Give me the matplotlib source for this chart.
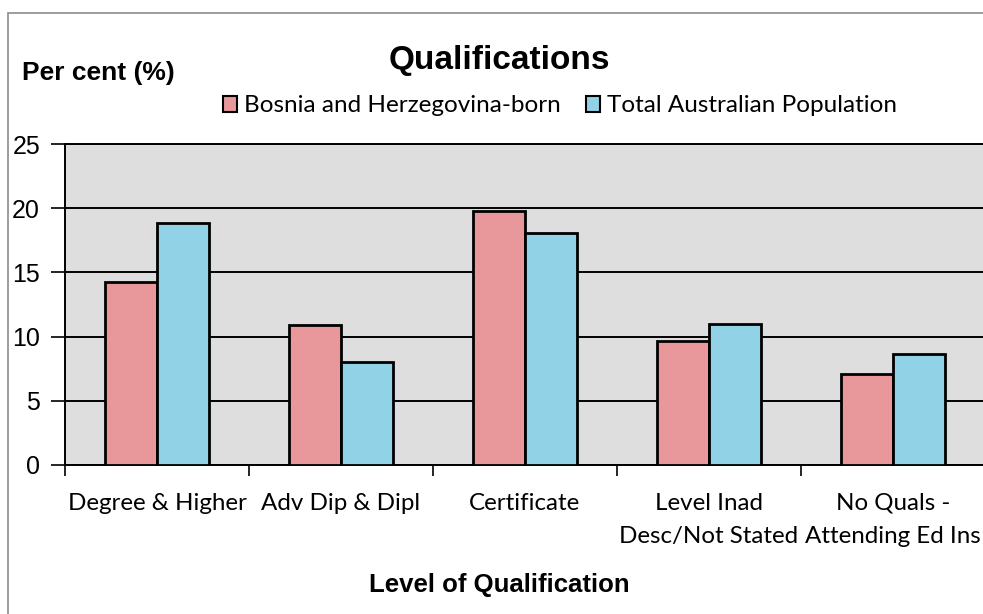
import matplotlib.pyplot as plt
from matplotlib.patches import Rectangle, Patch
import numpy as np

categories = ["Degree & Higher", "Adv Dip & Dipl", "Certificate",
              "Level Inad\nDesc/Not Stated", "No Quals -\nAttending Ed Ins"]
bosnia = [14.25, 10.9, 19.8, 9.67, 7.08]
australia = [18.85, 8.0, 18.07, 10.97, 8.64]
series_names = ["Bosnia and Herzegovina-born", "Total Australian Population"]

pink = "#E8979B"
blue = "#92D2E6"
label_font = "Lato"
head_font = "Liberation Sans"

fig = plt.figure(figsize=(9.83, 6.14), dpi=100)
fig.patch.set_facecolor("white")

# frame around the chart area
fig.patches.append(Rectangle((8 / 983, -0.05), 1.0, 1 - 13 / 614 + 0.05,
                             transform=fig.transFigure, fill=False,
                             edgecolor="#8c8c8c", linewidth=1.2))

ax = fig.add_axes([65 / 983, 149 / 614, 920 / 983, 321 / 614])
ax.set_facecolor("#DEDEDE")

x = np.arange(len(categories))
w = 0.285
ax.bar(x - w / 2, bosnia, w, color=pink, edgecolor="black", linewidth=2, zorder=3)
ax.bar(x + w / 2, australia, w, color=blue, edgecolor="black", linewidth=2, zorder=3)

ax.set_xlim(-0.5, len(categories) - 0.5)
ax.set_ylim(0, 25)
ax.set_yticks([0, 5, 10, 15, 20, 25])
ax.yaxis.grid(True, color="black", linewidth=1.4, zorder=1)
ax.set_axisbelow(True)

ax.set_xticks(x)
ax.set_xticklabels(categories, fontfamily=label_font, fontsize=17.4, linespacing=1.7)
ax.set_xticks(np.arange(len(categories) + 1) - 0.5, minor=True)
ax.tick_params(axis="x", which="major", length=0, pad=20)
ax.tick_params(axis="x", which="minor", length=8, width=1.2, color="black")
ax.tick_params(axis="y", length=10, width=1.2, color="black", pad=8, labelsize=18)
for lbl in ax.get_yticklabels():
    lbl.set_fontfamily(head_font)

ax.spines["right"].set_visible(False)
for side in ["left", "bottom", "top"]:
    ax.spines[side].set_linewidth(1.4)
    ax.spines[side].set_color("black")

fig.text(499 / 983, 1 - 61 / 614, "Qualifications", ha="center", va="center",
         fontfamily=head_font, fontweight="bold", fontsize=24)
fig.text(22 / 983, 1 - 73 / 614, "Per cent (%)", ha="left", va="center",
         fontfamily=head_font, fontweight="bold", fontsize=19)
fig.text(499 / 983, 1 - 585 / 614, "Level of Qualification", ha="center", va="center",
         fontfamily=head_font, fontweight="bold", fontsize=18.5)

handles = [Patch(facecolor=pink, edgecolor="black", linewidth=1.5),
           Patch(facecolor=blue, edgecolor="black", linewidth=1.5)]
fig.legend(handles, series_names, loc="center", bbox_to_anchor=(560 / 983, 1 - 106 / 614),
           ncol=2, frameon=False, prop={"family": label_font, "size": 17.5},
           handlelength=0.6, handleheight=0.6, handletextpad=0.3, columnspacing=1.0)

fig.savefig("out.png", dpi=100)
